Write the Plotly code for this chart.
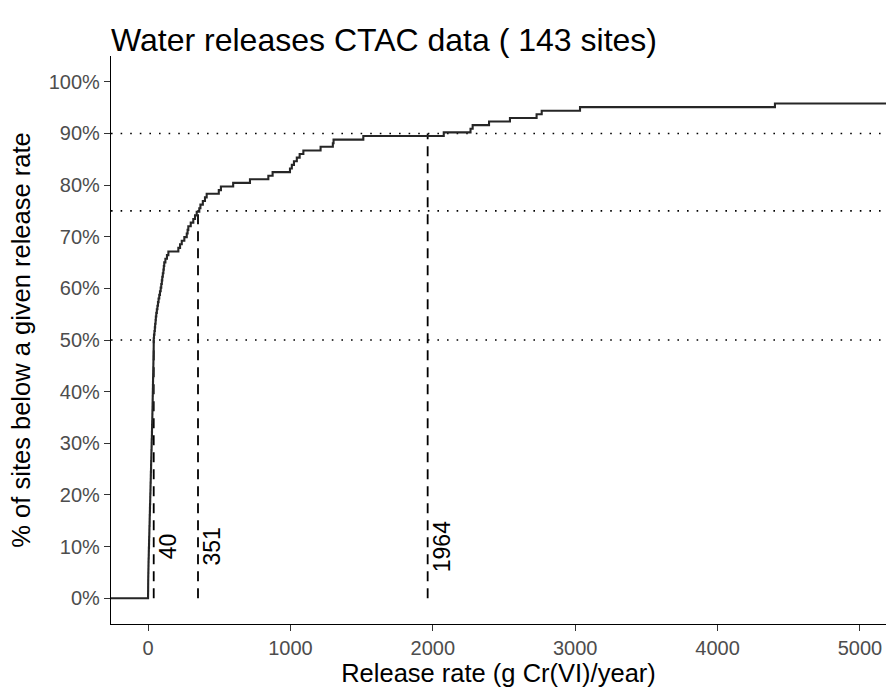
import numpy as np
import plotly.graph_objects as go

# Annual Cr(VI) water releases per site (g/year), sorted
release_rates = [
    0.2, 0.5, 0.8, 1, 1.2, 1.5, 2, 2.5, 3, 3.5, 4, 5, 5.5, 6,
    7, 7.5, 8, 9, 9.5, 10, 11, 11.5, 12, 13,
    13.5, 14, 15, 15.5, 16, 17, 17.5, 18, 19, 19.5,
    20, 21, 21.5, 22, 23, 23.5, 24, 25, 25.5, 26,
    27, 27.5, 28, 28.5, 29, 30, 30.5, 31, 31.5, 32,
    32.5, 33, 33.5, 34, 34.5, 35, 35.5, 36, 36.5, 37,
    37.5, 38, 38.5, 39, 39.5, 39.8, 40, 40,
    42, 45, 48, 50, 53, 55, 58, 62, 66, 70, 74, 79,
    84, 89, 93, 97, 100, 104, 108, 111, 114, 122, 133, 143,
    213, 225, 237, 255, 272, 278, 283, 300, 318, 330, 342,
    360, 368, 385, 400, 412,
    497, 512, 598, 716, 845, 875, 997, 1010, 1025, 1045, 1065, 1091,
    1212, 1298, 1303, 1512,
    2077, 2265, 2280, 2395, 2542, 2729, 2765, 3034, 4403,
    6200, 7800, 9500, 12000, 18000, 25000,
]
quantile_levels = [0.50, 0.75, 0.90]
y_ticks = [0, 10, 20, 30, 40, 50, 60, 70, 80, 90, 100]
x_ticks = [0, 1000, 2000, 3000, 4000, 5000]
x_range = [-260, 5183]
y_range = [-5, 105]

rates = np.sort(np.array(release_rates, dtype=float))
n = len(rates)
ecdf = np.arange(1, n + 1) / n * 100

# pad the step curve out to both ends of the axis, as an ECDF does
step_x = np.concatenate([[x_range[0]], rates, [rates[-1] * 10]])
step_y = np.concatenate([[0.0], ecdf, [100.0]])

quantiles = [float(np.quantile(rates, q)) for q in quantile_levels]

fig = go.Figure()

for q in quantile_levels:
    fig.add_trace(go.Scatter(
        x=x_range, y=[q * 100, q * 100], mode="lines",
        line=dict(color="black", width=1.6, dash="1.6px,8px"),
        hoverinfo="skip", showlegend=False,
    ))

for q, v in zip(quantile_levels, quantiles):
    fig.add_trace(go.Scatter(
        x=[v, v], y=[0, q * 100], mode="lines",
        line=dict(color="black", width=1.8, dash="10px,7px"),
        hoverinfo="skip", showlegend=False,
    ))
    fig.add_annotation(
        x=v, y=10, text=str(int(round(v))), textangle=-90,
        showarrow=False, xanchor="center", yanchor="middle",
        xshift=14, font=dict(size=23, color="black"),
    )

fig.add_trace(go.Scatter(
    x=step_x, y=step_y, mode="lines",
    line=dict(color="#262626", width=2.1, shape="hv"),
    showlegend=False,
))

font_family = "Liberation Sans, Arial, sans-serif"
fig.update_layout(
    width=886, height=691,
    margin=dict(l=111, r=0, t=56, b=67),
    plot_bgcolor="white", paper_bgcolor="white",
    font=dict(family=font_family, color="black"),
    title=dict(
        text=f"Water releases CTAC data ( {n} sites)",
        x=0, xref="paper", xanchor="left",
        y=1 - 40 / 691, yref="container", yanchor="middle",
        font=dict(size=32, color="black"),
    ),
)

fig.update_xaxes(
    range=x_range, tickvals=x_ticks, ticktext=[str(t) for t in x_ticks],
    showgrid=False, zeroline=False,
    showline=True, linecolor="black", linewidth=1.3,
    ticks="outside", ticklen=6, tickwidth=1.3, tickcolor="#333333",
    tickfont=dict(size=20, color="#4D4D4D"),
    title=dict(text="Release rate (g Cr(VI)/year)", font=dict(size=25.5), standoff=0),
)
fig.update_yaxes(
    range=y_range, tickvals=y_ticks, ticktext=[f"{t}%" for t in y_ticks],
    showgrid=False, zeroline=False,
    showline=True, linecolor="black", linewidth=1.3,
    ticks="outside", ticklen=6, tickwidth=1.3, tickcolor="#333333",
    tickfont=dict(size=20, color="#4D4D4D"),
    title=dict(text="% of sites below a given release rate", font=dict(size=25.5), standoff=10),
)

fig.write_html("out.html")
